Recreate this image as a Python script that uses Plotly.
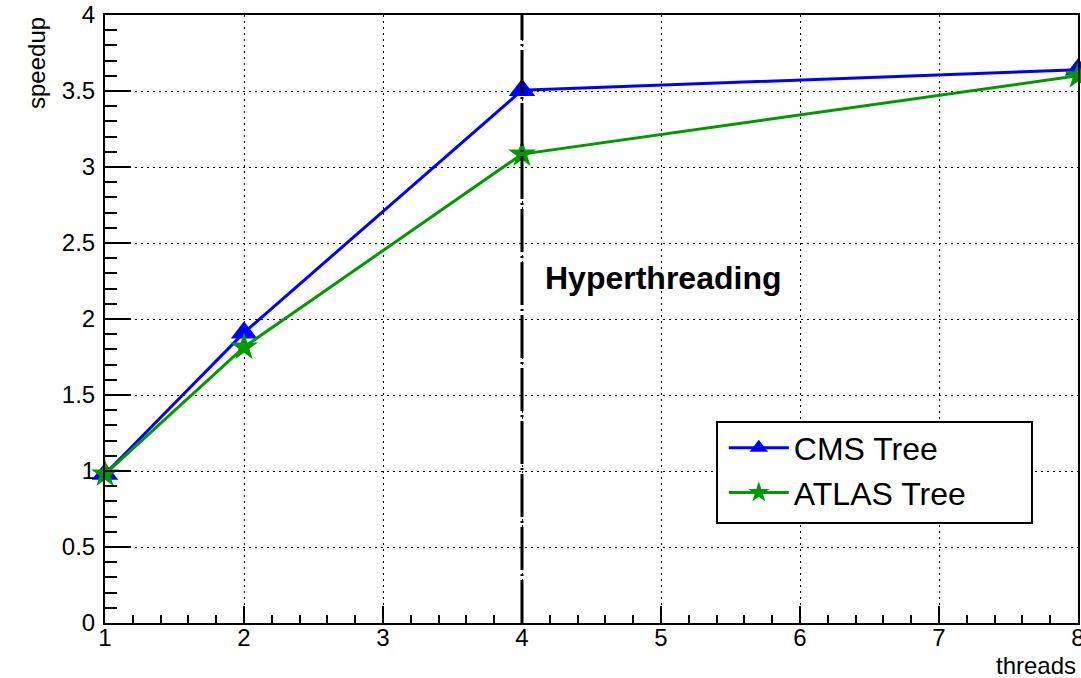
import plotly.graph_objects as go

threads = [1, 2, 4, 8]
cms_speedup = [0.98, 1.91, 3.505, 3.64]
atlas_speedup = [0.98, 1.815, 3.085, 3.60]
hyperthreading_x = 4
x_ticks = [1, 2, 3, 4, 5, 6, 7, 8]
y_ticks = [0, 0.5, 1, 1.5, 2, 2.5, 3, 3.5, 4]
y_tick_labels = ["0", "0.5", "1", "1.5", "2", "2.5", "3", "3.5", "4"]

FONT = "Liberation Sans, Arial, Helvetica, sans-serif"

fig = go.Figure()

fig.add_trace(go.Scatter(
    x=threads, y=cms_speedup, name="CMS Tree", mode="lines+markers",
    line=dict(color="#0000ff", width=3),
    marker=dict(symbol="triangle-up", size=23, color="#0000ff"),
    cliponaxis=False,
))
fig.add_trace(go.Scatter(
    x=threads, y=atlas_speedup, name="ATLAS Tree", mode="lines+markers",
    line=dict(color="#009a00", width=3),
    marker=dict(symbol="star", size=21, color="#009a00"),
    cliponaxis=False,
))

fig.add_shape(type="line", xref="x", yref="y",
              x0=hyperthreading_x, x1=hyperthreading_x, y0=y_ticks[0], y1=y_ticks[-1],
              line=dict(color="black", width=3, dash="43px,4px,2px,4px"))

# legend frame box
fig.add_shape(type="rect", xref="paper", yref="paper",
              x0=0.629, x1=0.9527, y0=0.1645, y1=0.3306,
              line=dict(color="black", width=2), fillcolor="white", layer="above")

fig.add_annotation(x=hyperthreading_x + 0.15, y=2.27, xref="x", yref="y",
                   text="<b>Hyperthreading</b>", showarrow=False,
                   xanchor="left", yanchor="middle",
                   font=dict(family=FONT, size=32, color="black"))

fig.add_annotation(x=0, y=1, xref="paper", yref="paper", text="speedup",
                   textangle=-90, showarrow=False, xanchor="center", yanchor="top",
                   xshift=-69, font=dict(family=FONT, size=24, color="black"))
fig.add_annotation(x=1, y=0, xref="paper", yref="paper", text="threads",
                   showarrow=False, xanchor="right", yanchor="top",
                   yshift=-27, font=dict(family=FONT, size=24, color="black"))

axis_common = dict(
    showline=True, linecolor="black", linewidth=2, mirror=True,
    showgrid=True, gridcolor="black", gridwidth=1, griddash="2px,4px",
    zeroline=False, ticks="inside", tickcolor="black", tickwidth=2,
    ticklabeloverflow="allow", automargin=False,
    tickfont=dict(family=FONT, size=24, color="black"),
)

fig.update_xaxes(range=[1, 8], tickvals=x_ticks, ticklen=17, ticklabelstandoff=-8,
                 minor=dict(dtick=0.2, ticks="inside", ticklen=8, tickcolor="black",
                            tickwidth=2, showgrid=False),
                 **axis_common)
fig.update_yaxes(range=[0, 4], tickvals=y_ticks, ticktext=y_tick_labels, ticklen=26,
                 ticklabelstandoff=3,
                 minor=dict(dtick=0.1, ticks="inside", ticklen=12, tickcolor="black",
                            tickwidth=2, showgrid=False),
                 **axis_common)

fig.update_layout(
    width=1081, height=678,
    margin=dict(l=105, r=3, t=15, b=55, autoexpand=False),
    paper_bgcolor="white", plot_bgcolor="white",
    font=dict(family=FONT, color="black"),
    legend=dict(x=0.636, y=0.333, xanchor="left", yanchor="top",
                borderwidth=0, bgcolor="rgba(0,0,0,0)", itemwidth=60,
                font=dict(family=FONT, size=32, color="black")),
)

fig.write_html(
    "out.html",
    config={"displayModeBar": False},
    post_script="document.body.style.margin='0';document.body.style.overflow='hidden';",
)
